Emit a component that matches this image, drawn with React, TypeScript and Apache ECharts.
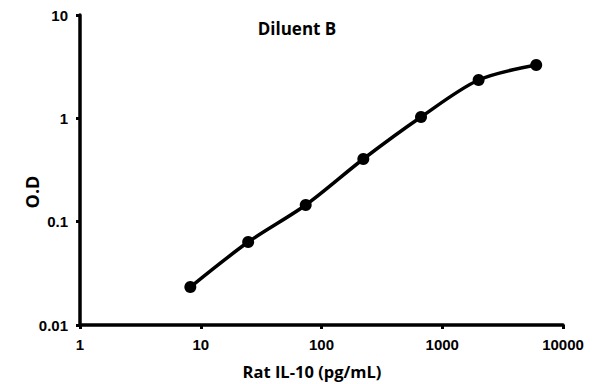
import React, { useEffect, useRef } from "react";
import * as echarts from "echarts";

const concentrations = [8.2, 24.7, 74, 222, 667, 2000, 6000];
const odValues = [0.0233, 0.0635, 0.145, 0.404, 1.03, 2.35, 3.28];
const xTicks = [1, 10, 100, 1000, 10000];
const yTicks = [0.01, 0.1, 1, 10];

export default function App() {
  const ref = useRef<HTMLDivElement>(null);
  useEffect(() => {
    if (!ref.current) return;
    const chart = echarts.init(ref.current, null, { renderer: "svg" });
    const fmtX = (v: number) => {
      const t = xTicks.find((k) => Math.abs(Math.log10(k) - Math.log10(v)) < 1e-6);
      return t !== undefined ? String(t) : "";
    };
    const fmtY = (v: number) => {
      const t = yTicks.find((k) => Math.abs(Math.log10(k) - Math.log10(v)) < 1e-6);
      return t !== undefined ? String(t) : "";
    };
    chart.setOption({
      animation: false,
      backgroundColor: "#ffffff",
      grid: { left: 80, right: 32, top: 15, bottom: 59, containLabel: false },
      xAxis: {
        type: "log",
        logBase: 10,
        min: 1,
        max: 10000,
        axisLine: { lineStyle: { color: "#000", width: 3.5 } },
        axisTick: { show: true, length: 4, lineStyle: { color: "#000", width: 3 } },
        axisLabel: {
          formatter: fmtX,
          color: "#000",
          fontFamily: "Liberation Sans",
          fontWeight: "bold",
          fontSize: 15,
          margin: 12,
        },
        splitLine: { show: false },
        minorTick: { show: false },
      },
      yAxis: {
        type: "log",
        logBase: 10,
        min: 0.01,
        max: 10,
        axisLine: { lineStyle: { color: "#000", width: 3.5 } },
        axisTick: { show: true, length: 4, lineStyle: { color: "#000", width: 3 } },
        axisLabel: {
          formatter: fmtY,
          color: "#000",
          fontFamily: "Liberation Sans",
          fontWeight: "bold",
          fontSize: 15,
          margin: 12,
        },
        splitLine: { show: false },
      },
      series: [
        {
          type: "line",
          data: concentrations.map((c, i) => [c, odValues[i]]),
          smooth: 0.3,
          symbol: "circle",
          symbolSize: 12,
          itemStyle: { color: "#000" },
          lineStyle: { color: "#000", width: 3.5 },
        },
      ],
      graphic: [
        {
          type: "text",
          x: 297,
          y: 28,
          style: {
            text: "Diluent B",
            fill: "#000",
            font: "bold 17px 'Open Sans', 'Noto Sans', sans-serif",
            align: "center",
            verticalAlign: "middle",
          },
        },
        {
          type: "text",
          x: 312,
          y: 371,
          style: {
            text: "Rat IL-10 (pg/mL)",
            fill: "#000",
            font: "bold 16.5px 'Open Sans', 'Noto Sans', sans-serif",
            align: "center",
            verticalAlign: "middle",
          },
        },
        {
          type: "text",
          x: 32,
          y: 192,
          rotation: Math.PI / 2,
          style: {
            text: "O.D",
            fill: "#000",
            font: "bold 18px 'Open Sans', 'Noto Sans', sans-serif",
            align: "center",
            verticalAlign: "middle",
          },
        },
      ],
    });
    return () => chart.dispose();
  }, []);
  return <div ref={ref} style={{ width: 595, height: 384, position: "absolute", left: 0, top: 0 }} />;
}
